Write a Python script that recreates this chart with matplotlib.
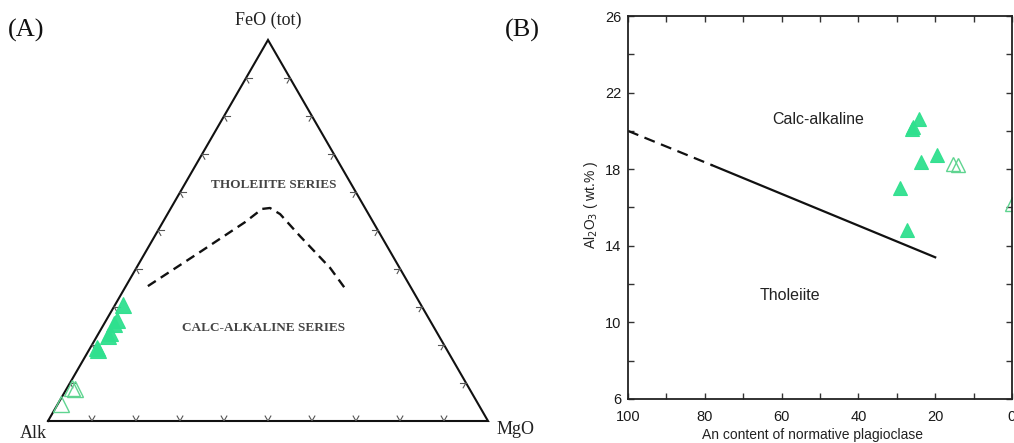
import numpy as np
import matplotlib
matplotlib.use("Agg")
import matplotlib.pyplot as plt

# ---------------- data ----------------
# Panel A: AFM ternary (Alk, FeO(tot), MgO) in %
boundary_alk = [59.6, 43.3, 29.1, 23.5, 21.6, 20.1, 18.5, 15.8, 15.0]
boundary_feo = [35.4, 44.4, 52.2, 55.6, 55.9, 54.3, 48.6, 40.2, 34.1]
boundary_mgo = [5.0, 12.4, 18.7, 20.8, 22.5, 25.6, 33.0, 44.0, 50.9]

filled_alk = [67.7, 71.1, 72.3, 74.4, 75.2, 79.3, 79.3]
filled_feo = [30.4, 26.5, 25.5, 23.1, 22.3, 18.6, 19.2]
filled_mgo = [1.8, 2.4, 2.3, 2.5, 2.5, 2.1, 1.6]

open_alk = [90.2, 89.7, 94.8]
open_feo = [8.7, 8.4, 4.5]
open_mgo = [1.1, 1.9, 0.7]

ternary_ticks = [10, 20, 30, 40, 50, 60, 70, 80, 90]

# Panel B: An content vs Al2O3
line_dash_an = [100, 78]
line_dash_al = [20.0, 18.2]
line_solid_an = [78, 20]
line_solid_al = [18.2, 13.4]

b_filled_an = [24.2, 26.0, 25.8, 19.5, 23.7, 29.2, 27.4]
b_filled_al = [20.6, 20.1, 20.2, 18.74, 18.38, 17.0, 14.8]
b_open_an = [15.4, 14.1, 0.0]
b_open_al = [18.27, 18.2, 16.2]

x_ticks = [100, 80, 60, 40, 20, 0]
y_ticks = [6, 10, 14, 18, 22, 26]

FILL = "#2fe08e"
OPEN = "#5fd490"

# ---------------- helpers ----------------
S3 = np.sqrt(3) / 2


def tern(a, f, m):
    a = np.asarray(a, float); f = np.asarray(f, float); m = np.asarray(m, float)
    t = a + f + m
    f = f / t; m = m / t
    return m + f / 2, f * S3


W, H = 1014, 443
fig = plt.figure(figsize=(W / 100, H / 100), dpi=100)

# ---------------- Panel A ----------------
axA = fig.add_axes([48 / W, (H - 421) / H, 440 / W, 440 / H])
axA.set_xlim(0, 1)
axA.set_ylim(0, 1)
axA.axis("off")

serif = ["Liberation Serif", "DejaVu Serif"]

axA.plot([0, 1, 0.5, 0], [0, 0, S3, 0], color="#111111", lw=1.5,
         solid_joinstyle="miter", clip_on=False)

L = 0.013
tc = "#555555"
for t in ternary_ticks:
    p = t / 100
    # bottom edge
    x0, y0 = p, 0
    for dx, dy in [(0.5, S3), (-0.5, S3)]:
        axA.plot([x0, x0 + L * dx], [y0, y0 + L * dy], color=tc, lw=0.8)
    # left edge
    x0, y0 = 0.5 * p, S3 * p
    for dx, dy in [(1, 0), (0.5, -S3)]:
        axA.plot([x0, x0 + L * dx], [y0, y0 + L * dy], color=tc, lw=0.8)
    # right edge
    x0, y0 = 1 - 0.5 * p, S3 * p
    for dx, dy in [(-1, 0), (-0.5, -S3)]:
        axA.plot([x0, x0 + L * dx], [y0, y0 + L * dy], color=tc, lw=0.8)

bx, by = tern(boundary_alk, boundary_feo, boundary_mgo)
axA.plot(bx, by, color="#111111", lw=1.7, ls=(0, (4, 2.5)))

fx, fy = tern(filled_alk, filled_feo, filled_mgo)
axA.plot(fx, fy, ls="none", marker="^", ms=11.5, mfc=FILL, mec=FILL,
         mew=0.8, alpha=0.95, clip_on=False)
ox, oy = tern(open_alk, open_feo, open_mgo)
axA.plot(ox, oy, ls="none", marker="^", ms=11, mfc="none", mec=OPEN,
         mew=1.0, clip_on=False)

axA.text(0.5, (421 - 20) / 440, "FeO (tot)", ha="center", va="center",
         fontsize=13, family=serif, color="#222222")
axA.text((33 - 48) / 440, (421 - 434) / 440, "Alk", ha="center", va="center",
         fontsize=13, family=serif, color="#222222", clip_on=False)
axA.text((516 - 48) / 440, (421 - 430) / 440, "MgO", ha="center", va="center",
         fontsize=13, family=serif, color="#222222", clip_on=False)
axA.text((274 - 48) / 440, (421 - 185) / 440, "THOLEIITE SERIES", ha="center",
         va="center", fontsize=9.5, family=serif, color="#444444",
         fontweight="bold")
axA.text((264 - 48) / 440, (421 - 328) / 440, "CALC-ALKALINE SERIES",
         ha="center", va="center", fontsize=9.5, family=serif,
         color="#444444", fontweight="bold")

fig.text(8 / W, 1 - 30 / H, "(A)", ha="left", va="center", fontsize=19,
         family=serif, color="#111111")
fig.text(505 / W, 1 - 30 / H, "(B)", ha="left", va="center", fontsize=19,
         family=serif, color="#111111")

# ---------------- Panel B ----------------
sans = ["Liberation Sans", "DejaVu Sans"]
axB = fig.add_axes([628 / W, (H - 399) / H, 384 / W, 383 / H])
axB.set_xlim(100, 0)
axB.set_ylim(6, 26)

axB.plot(line_dash_an, line_dash_al, color="#111111", lw=1.6,
         ls=(0, (5, 3)))
axB.plot(line_solid_an, line_solid_al, color="#111111", lw=1.6)

axB.plot(b_filled_an, b_filled_al, ls="none", marker="^", ms=10,
         mfc=FILL, mec=FILL, mew=0.8, alpha=0.95)
axB.plot(b_open_an, b_open_al, ls="none", marker="^", ms=10,
         mfc="none", mec=OPEN, mew=1.0)

axB.set_xticks(x_ticks)
axB.set_yticks(y_ticks)
axB.set_xticks([90, 70, 50, 30, 10], minor=True)
axB.set_yticks([8, 12, 16, 20, 24], minor=True)
axB.tick_params(which="both", direction="in", top=True, right=True,
                length=4.5, width=1.0, color="#333333",
                labelsize=10.5, labelcolor="#1a1a1a")
axB.tick_params(axis="x", which="both", pad=8)
axB.tick_params(axis="y", which="both", pad=5)
for lab in axB.get_xticklabels() + axB.get_yticklabels():
    lab.set_family(sans)
for sp in axB.spines.values():
    sp.set_linewidth(1.3)
    sp.set_color("#222222")

axB.set_xlabel("An content of normative plagioclase", fontsize=10,
               family=sans, color="#222222")
axB.xaxis.set_label_coords(0.48, -0.076)
axB.set_ylabel(r"Al$_2$O$_3$ ( wt.% )", fontsize=10, family=sans,
               color="#222222")
axB.yaxis.set_label_coords(-0.072, 0.507)

axB.text((818 - 628) / 384, (399 - 119) / 383, "Calc-alkaline",
         transform=axB.transAxes, ha="center", va="center", fontsize=11.5,
         family=sans, color="#222222")
axB.text((790 - 628) / 384, (399 - 295) / 383, "Tholeiite",
         transform=axB.transAxes, ha="center", va="center", fontsize=11.5,
         family=sans, color="#222222")

fig.savefig("out.png", dpi=100)
